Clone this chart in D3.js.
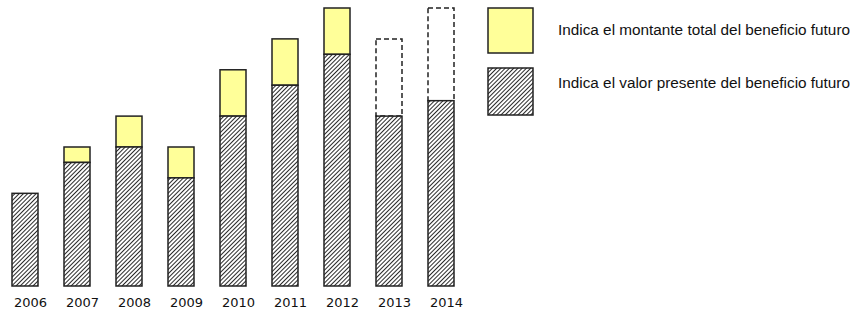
<!DOCTYPE html>
<html><head><meta charset="utf-8">
<script src="https://cdn.jsdelivr.net/npm/d3@7"></script>
<style>html,body{margin:0;padding:0;background:#fff;}svg{display:block;}</style>
</head><body>
<svg id="chart" width="856" height="316"></svg>
<script>
const years = ["2006","2007","2008","2009","2010","2011","2012","2013","2014"];
const presentValue = [6, 8, 9, 7, 11, 13, 15, 11, 12];
const totalValue   = [6, 9, 11, 9, 14, 16, 18, 16, 18];
const isForecast   = [false,false,false,false,false,false,false,true,true];
const legendLabels = ["Indica el montante total del beneficio futuro",
                      "Indica el valor presente del beneficio futuro"];

const svg = d3.select("#chart");
const defs = svg.append("defs");
const pat = defs.append("pattern").attr("id","hatch")
  .attr("patternUnits","userSpaceOnUse").attr("width",3).attr("height",3)
  .attr("patternTransform","rotate(45)");
pat.append("rect").attr("width",3).attr("height",3).attr("fill","#fff");
pat.append("line").attr("x1",0.5).attr("y1",0).attr("x2",0.5).attr("y2",3)
  .attr("stroke","#2a2a2a").attr("stroke-width",1);

const x = d3.scaleBand().domain(years).range([12, 454]).paddingInner(0.5).paddingOuter(0);
const y = d3.scaleLinear().domain([0, 18]).range([286, 8]);

const data = years.map((yr,i)=>({yr, pv:presentValue[i], tv:totalValue[i], f:isForecast[i]}));

const g = svg.append("g");
g.selectAll("rect.top").data(data.filter(d=>d.tv>d.pv)).join("rect")
  .attr("class","top")
  .attr("x", d=>x(d.yr)).attr("width", x.bandwidth())
  .attr("y", d=>y(d.tv)).attr("height", d=>y(d.pv)-y(d.tv))
  .attr("fill", d=>d.f ? "#fff" : "#ffff99")
  .attr("stroke", "#222").attr("stroke-width", 1.5)
  .attr("stroke-dasharray", d=>d.f ? "5,3" : null);
g.selectAll("rect.pv").data(data).join("rect")
  .attr("class","pv")
  .attr("x", d=>x(d.yr)).attr("width", x.bandwidth())
  .attr("y", d=>y(d.pv)).attr("height", d=>y(0)-y(d.pv))
  .attr("fill","url(#hatch)")
  .attr("stroke","#222").attr("stroke-width",1.5);

const xAxis = d3.axisBottom(x).tickSize(0).tickPadding(0);
const ax = svg.append("g").attr("transform","translate(0,298)").call(xAxis);
ax.select(".domain").remove();
ax.selectAll("text")
  .attr("text-anchor","start")
  .attr("x", -x.bandwidth()/2 + 2)
  .attr("dy","0.71em")
  .attr("font-family","DejaVu Sans")
  .attr("font-size", 13)
  .attr("fill","#111");

const leg = svg.append("g");
leg.append("rect").attr("x",488).attr("y",8).attr("width",45).attr("height",45)
  .attr("fill","#ffff99").attr("stroke","#222").attr("stroke-width",1.5);
leg.append("rect").attr("x",488).attr("y",68).attr("width",45).attr("height",47)
  .attr("fill","url(#hatch)").attr("stroke","#222").attr("stroke-width",1.5);
leg.selectAll("text").data(legendLabels).join("text")
  .attr("x",558).attr("y",(d,i)=>35+i*53)
  .attr("font-family","Liberation Sans, Arial, sans-serif")
  .attr("font-size",14)
  .attr("textLength",292).attr("lengthAdjust","spacingAndGlyphs")
  .attr("fill","#111")
  .text(d=>d);
</script>
</body></html>
